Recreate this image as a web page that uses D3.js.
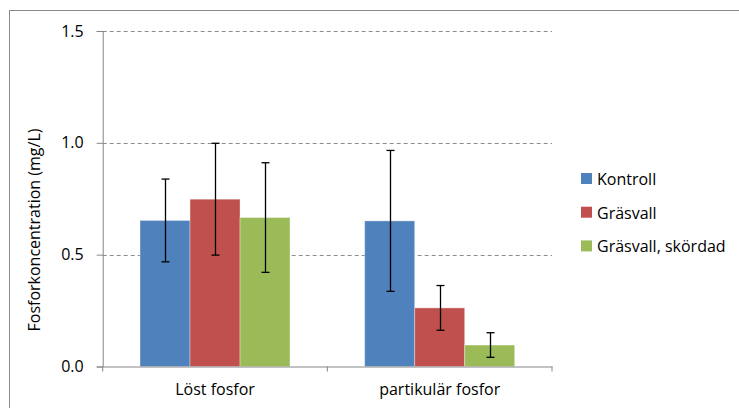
<!DOCTYPE html>
<html>
<head>
<meta charset="utf-8">
<script src="https://cdn.jsdelivr.net/npm/d3@7"></script>
<style>
  body { margin: 0; background: white; }
  text { font-family: "Open Sans", sans-serif; fill: #000; }
</style>
</head>
<body>
<div id="container"></div>
<script>
/* CONSTANTS AND GLOBALS */
const width = 739;
const height = 408;
const fontSize = "16px";

/* DATA */
const categories = ["Löst fosfor", "partikulär fosfor"];
const seriesNames = ["Kontroll", "Gräsvall", "Gräsvall, skördad"];
const kontroll = [0.653, 0.651];
const grasvall = [0.748, 0.262];
const skordad = [0.666, 0.096];
// error bar half widths (mg/L)
const kontrollErr = [0.185, 0.315];
const grasvallErr = [0.25, 0.10];
const skordadErr = [0.245, 0.055];
const yTicks = [0, 0.5, 1.0, 1.5];
const colors = ["#4F81BD", "#C0504D", "#9BBB59"];

const margin = { top: 31, right: 187, bottom: 41.5, left: 102.7 };

const values = [kontroll, grasvall, skordad];
const errors = [kontrollErr, grasvallErr, skordadErr];
const data = [];
categories.forEach((c, i) => {
  seriesNames.forEach((s, j) => {
    data.push({ category: c, series: s, value: values[j][i], err: errors[j][i] });
  });
});

const svg = d3.select("#container")
  .append("svg")
  .attr("width", width)
  .attr("height", height)
  .style("background-color", "white");

// outer chart border
svg.append("rect")
  .attr("x", 9.5)
  .attr("y", 10.5)
  .attr("width", 760)
  .attr("height", 420)
  .attr("fill", "none")
  .attr("stroke", "#898989")
  .attr("stroke-width", 1);

/* SCALES */
const xScale = d3.scaleBand()
  .domain(categories)
  .range([margin.left, width - margin.right])
  .paddingInner(0)
  .paddingOuter(0);

const xInner = d3.scaleBand()
  .domain(seriesNames)
  .range([0, xScale.bandwidth()])
  .paddingOuter(0.5 * (xScale.bandwidth() - 150) / 50)
  .paddingInner(0);

const yScale = d3.scaleLinear()
  .domain([0, 1.5])
  .range([height - margin.bottom, margin.top]);

const color = d3.scaleOrdinal().domain(seriesNames).range(colors);

/* GRIDLINES */
svg.append("g")
  .selectAll("line")
  .data(yTicks.filter(d => d > 0))
  .join("line")
  .attr("x1", margin.left)
  .attr("x2", width - margin.right)
  .attr("y1", d => Math.round(yScale(d)) + 0.5)
  .attr("y2", d => Math.round(yScale(d)) + 0.5)
  .attr("stroke", "#8c8c8c")
  .attr("stroke-dasharray", "4,3");

/* BARS */
svg.append("g")
  .selectAll("rect")
  .data(data)
  .join("rect")
  .attr("x", d => xScale(d.category) + xInner(d.series))
  .attr("y", d => yScale(d.value))
  .attr("width", xInner.bandwidth())
  .attr("height", d => yScale(0) - yScale(d.value))
  .attr("fill", d => color(d.series))
  .attr("stroke", "rgba(255,255,255,0.35)")
  .attr("stroke-width", 1);

/* ERROR BARS */
const errG = svg.append("g")
  .selectAll("g")
  .data(data)
  .join("g")
  .attr("transform", d => `translate(${Math.round(xScale(d.category) + xInner(d.series) + xInner.bandwidth() / 2) + 0.5},0)`);

errG.append("line")
  .attr("y1", d => yScale(d.value + d.err))
  .attr("y2", d => yScale(d.value - d.err))
  .attr("stroke", "#000")
  .attr("stroke-width", 1.3);

errG.selectAll(".cap")
  .data(d => [d.value + d.err, d.value - d.err])
  .join("line")
  .attr("class", "cap")
  .attr("x1", -4)
  .attr("x2", 4)
  .attr("y1", v => yScale(v))
  .attr("y2", v => yScale(v))
  .attr("stroke", "#000")
  .attr("stroke-width", 1.3);

/* AXES */
const yAxis = d3.axisLeft(yScale)
  .tickValues(yTicks)
  .tickFormat(d3.format(".1f"))
  .tickSize(6)
  .tickPadding(13);

const yG = svg.append("g")
  .attr("transform", `translate(${margin.left},0)`)
  .call(yAxis);

const xAxis = d3.axisBottom(xScale)
  .tickSize(0)
  .tickPadding(17);

const xG = svg.append("g")
  .attr("transform", `translate(0,${height - margin.bottom})`)
  .call(xAxis);

// category boundary ticks
xG.append("g")
  .selectAll("line")
  .data([...categories.map(c => xScale(c)), width - margin.right])
  .join("line")
  .attr("x1", d => d)
  .attr("x2", d => d)
  .attr("y1", 0)
  .attr("y2", 5)
  .attr("stroke", "#868686");

[yG, xG].forEach(g => {
  g.select(".domain").attr("stroke", "#868686");
  g.selectAll(".tick line").attr("stroke", "#868686");
  g.selectAll("text")
    .style("font-family", "'Open Sans', sans-serif")
    .style("font-size", fontSize)
    .attr("fill", "#000");
});

// y axis title
svg.append("text")
  .attr("transform", `translate(40,230) rotate(-90)`)
  .attr("text-anchor", "middle")
  .style("font-size", fontSize)
  .text("Fosforkoncentration (mg/L)");

/* LEGEND */
const legend = svg.append("g")
  .attr("transform", "translate(581,0)")
  .selectAll("g")
  .data(seriesNames)
  .join("g")
  .attr("transform", (d, i) => `translate(0,${178.5 + i * 33.7})`);

legend.append("rect")
  .attr("x", 0)
  .attr("y", -5.5)
  .attr("width", 11)
  .attr("height", 11)
  .attr("fill", d => color(d));

legend.append("text")
  .attr("x", 16)
  .attr("y", 6.3)
  .style("font-size", fontSize)
  .text(d => d);
</script>
</body>
</html>
